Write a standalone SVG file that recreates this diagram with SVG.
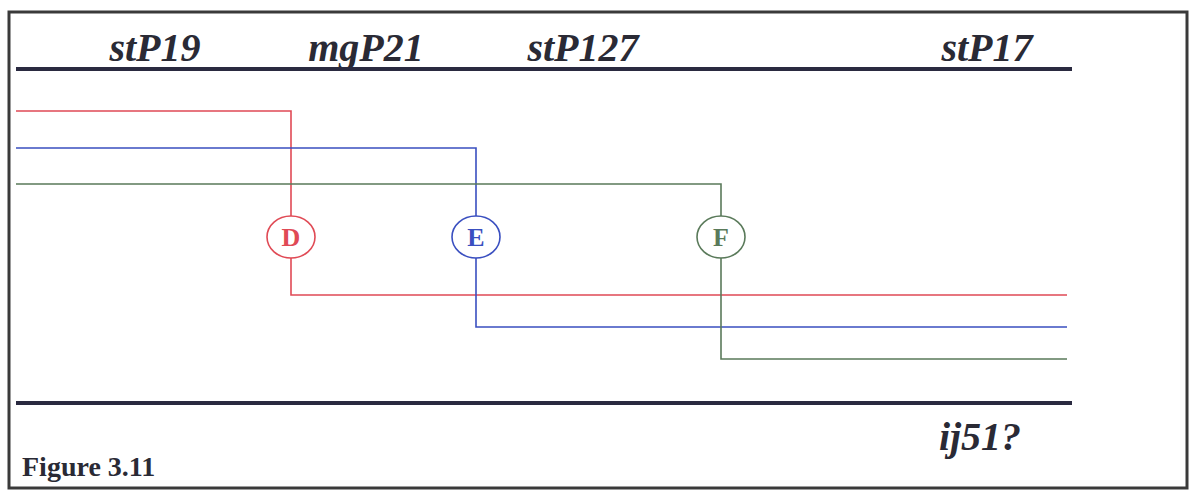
<svg xmlns="http://www.w3.org/2000/svg" width="1200" height="492" viewBox="0 0 1200 492">
<style>
.hd{font-family:"Liberation Serif",serif;font-weight:bold;font-style:italic;font-size:40px;fill:#2a2a35;text-anchor:middle}
.rule{stroke:#2a2a40;stroke-width:4}
.w{fill:none;stroke-width:1.6}
.r{stroke:#e04a55}.b{stroke:#3a4fc0}.g{stroke:#5a7a5a}
.lbl{font-family:"Liberation Serif",serif;font-weight:bold;font-size:26px;text-anchor:middle}
</style>
<rect x="0" y="0" width="1200" height="492" fill="#ffffff"/>
<rect x="9" y="12" width="1178" height="476" fill="none" stroke="#3a3a3a" stroke-width="3"/>
<g id="headers">
<text class="hd" x="155" y="61">stP19</text>
<text class="hd" x="366" y="61">mgP21</text>
<text class="hd" x="583" y="61">stP127</text>
<text class="hd" x="987" y="61">stP17</text>
</g>
<line class="rule" x1="16" y1="69" x2="1072" y2="69"/>
<line class="rule" x1="16" y1="403" x2="1072" y2="403"/>
<g id="connectors">
<polyline class="w r" points="16,111 291,111 291,216"/>
<polyline class="w r" points="291,258 291,295 1067,295"/>
<polyline class="w b" points="16,148 476,148 476,216"/>
<polyline class="w b" points="476,258 476,327 1067,327"/>
<polyline class="w g" points="16,184 721,184 721,216"/>
<polyline class="w g" points="721,258 721,359 1067,359"/>
</g>
<g id="D"><ellipse cx="291" cy="237" rx="24" ry="21" fill="#fff" class="w r"/><text class="lbl" x="291" y="246" fill="#e04a55">D</text></g>
<g id="E"><ellipse cx="476" cy="237" rx="24" ry="21" fill="#fff" class="w b"/><text class="lbl" x="476" y="246" fill="#3a4fc0">E</text></g>
<g id="F"><ellipse cx="721" cy="237" rx="24" ry="21" fill="#fff" class="w g"/><text class="lbl" x="721" y="246" fill="#5a7a5a">F</text></g>
<text class="hd" x="980" y="450">ij51?</text>
<text x="22" y="476" font-family="Liberation Serif,serif" font-weight="bold" font-size="28" fill="#2a2a35">Figure 3.11</text>
</svg>
